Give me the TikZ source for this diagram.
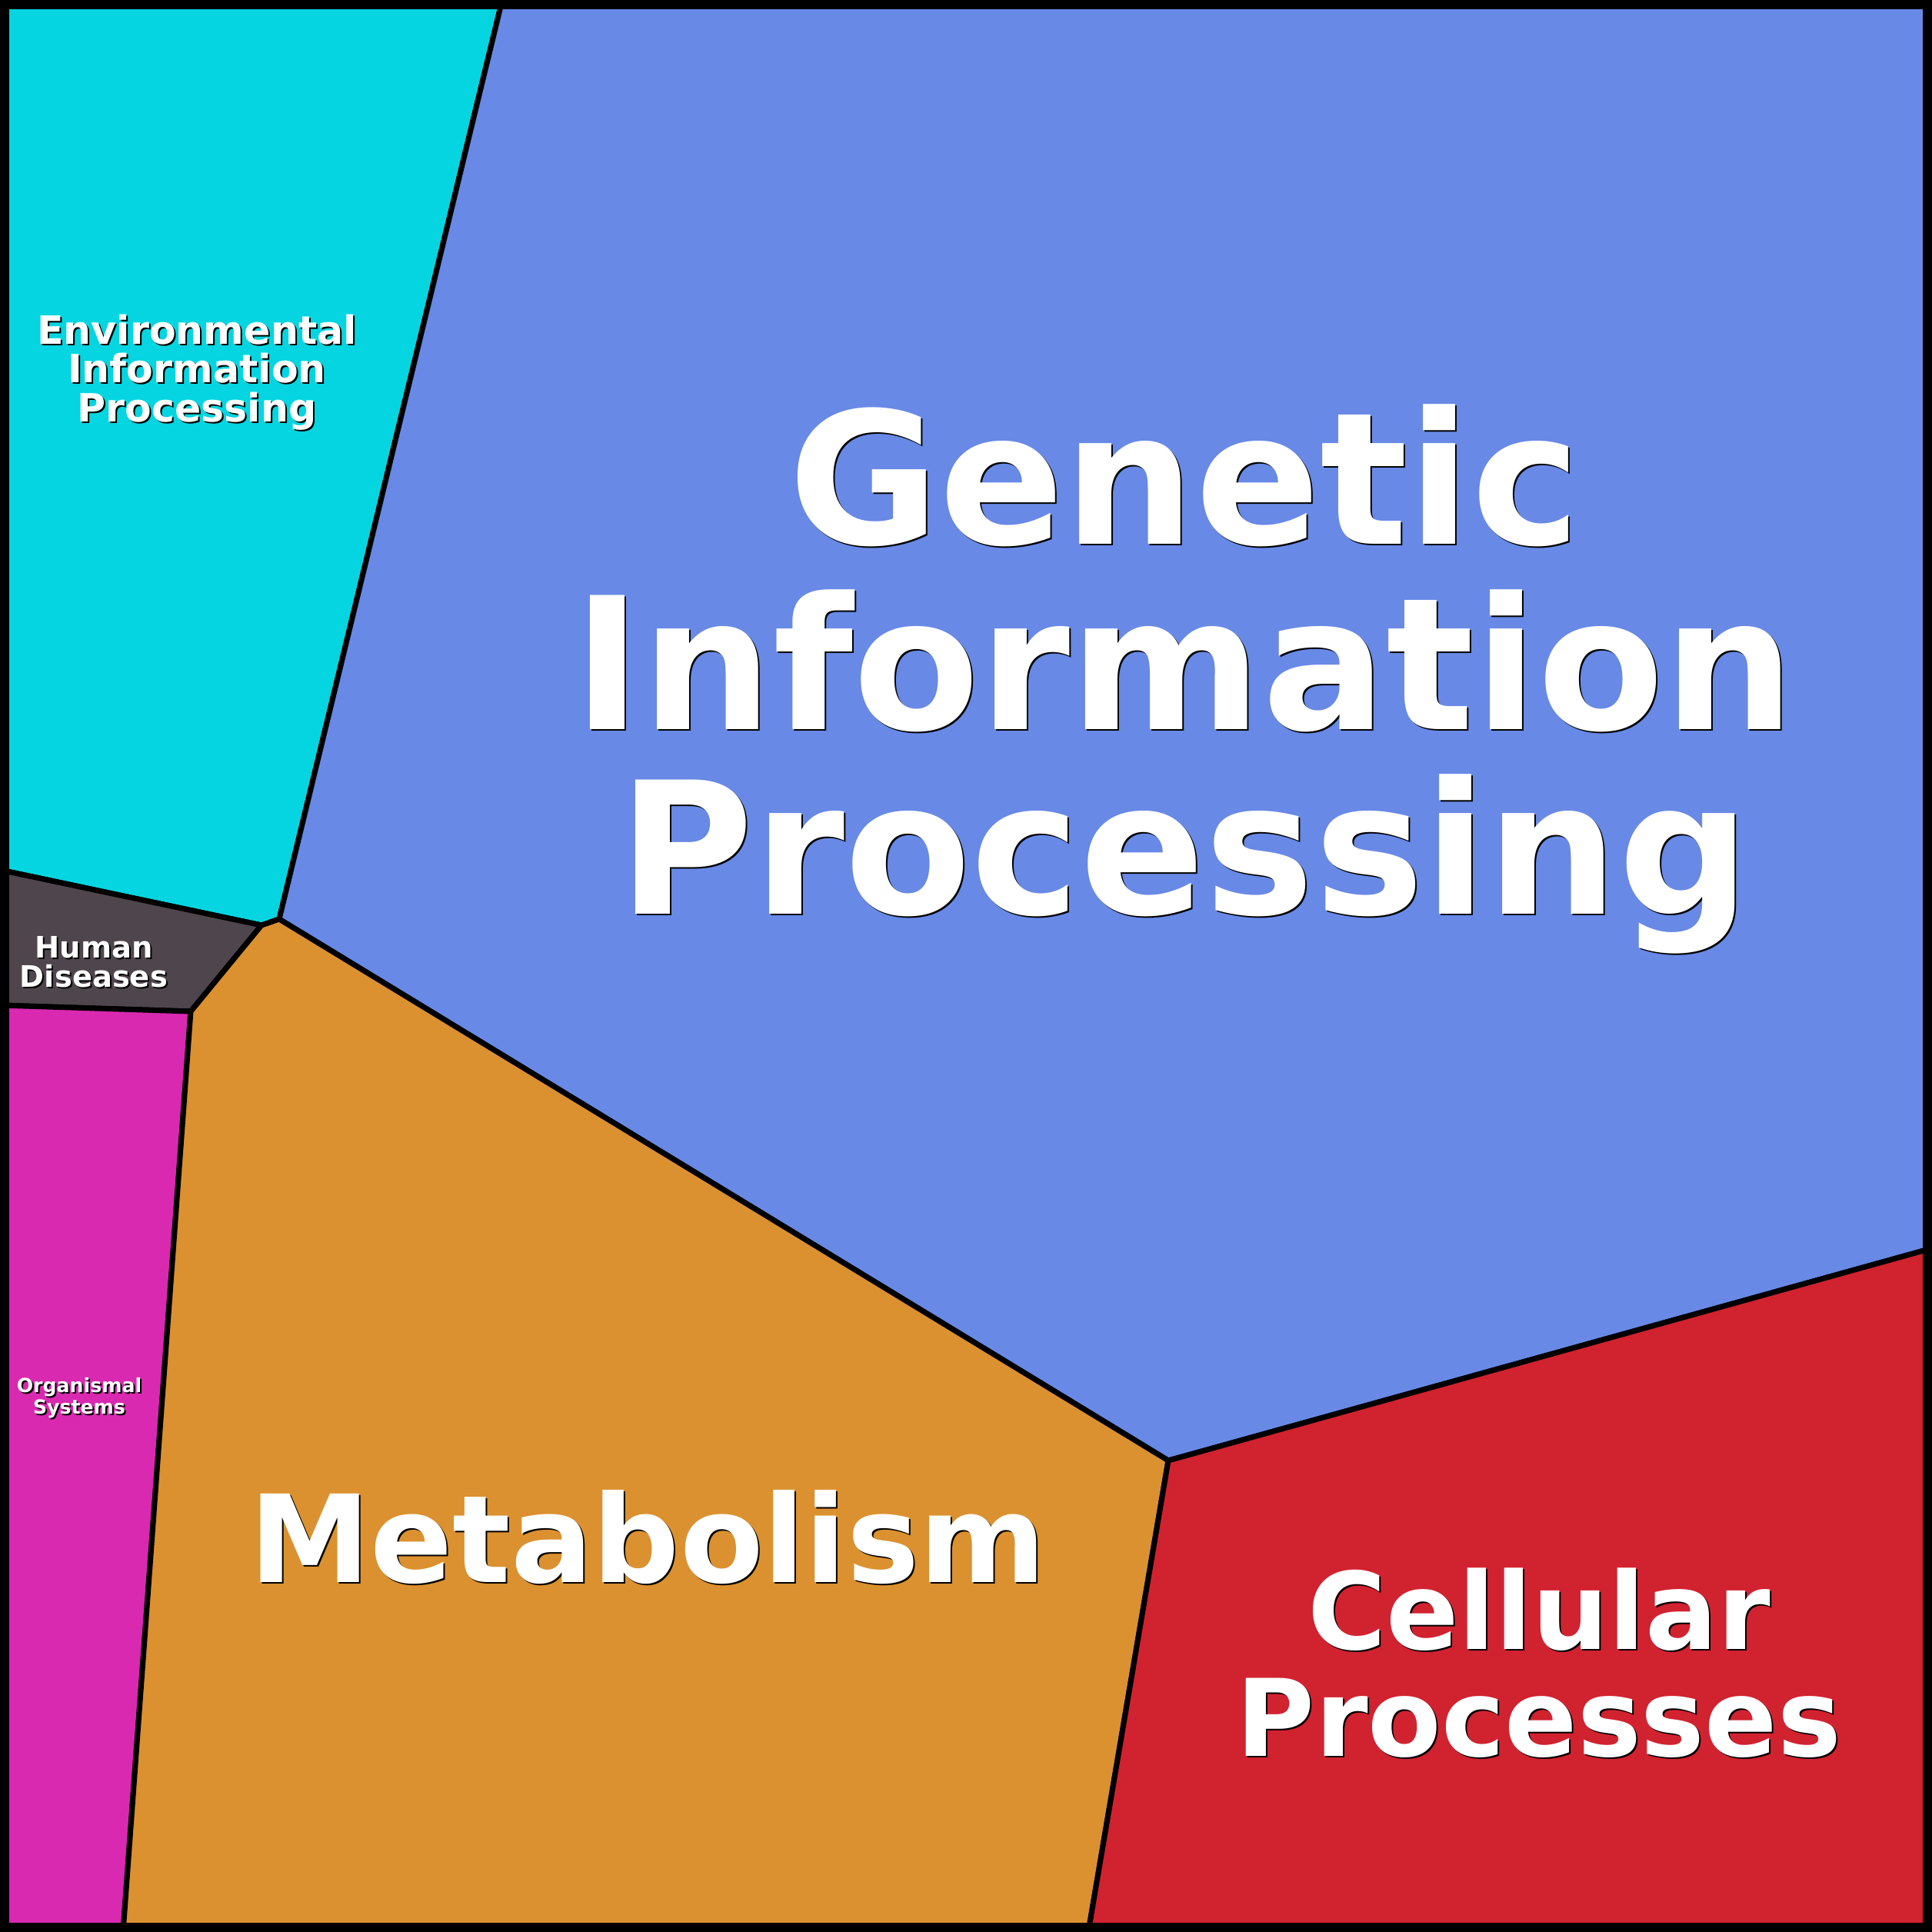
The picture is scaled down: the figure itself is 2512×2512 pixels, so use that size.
\documentclass[tikz,border=0pt]{standalone}
\usepackage{fontspec}
\setmainfont{DejaVu Sans}
\usetikzlibrary{calc}

\definecolor{envcyan}{RGB}{5,213,224}
\definecolor{genblue}{RGB}{104,137,229}
\definecolor{humgrey}{RGB}{78,69,77}
\definecolor{orgpink}{RGB}{217,41,176}
\definecolor{metorange}{RGB}{219,145,48}
\definecolor{celred}{RGB}{209,34,48}

\tikzset{
	region/.style={draw=black, line width=0.7mm, line join=miter},
	lbl/.style={align=center, inner sep=0pt, anchor=base},
}

\newcommand{\shadowlabel}[5]{%
	\node[lbl, text=black, font={\bfseries\fontsize{#3}{#4}\selectfont}] (#1s) at ($(#2)+(2,2)$) {#5};
	\node[lbl, text=white, font={\bfseries\fontsize{#3}{#4}\selectfont}] (#1) at (#2) {#5};
}

\begin{document}
\begin{tikzpicture}[x=0.1mm, y=-0.1mm]
	\useasboundingbox (0,0) rectangle (2512,2512);

	\coordinate (tl) at (0,0);
	\coordinate (tr) at (2512,0);
	\coordinate (br) at (2512,2512);
	\coordinate (bl) at (0,2512);

	\coordinate (a) at (653,0);
	\coordinate (b) at (363,1195);
	\coordinate (c) at (340,1203);
	\coordinate (d) at (0,1131);
	\coordinate (e) at (248,1315);
	\coordinate (f) at (0,1307);
	\coordinate (g) at (160,2512);
	\coordinate (h) at (1519,1899);
	\coordinate (i) at (2512,1623);
	\coordinate (j) at (1415,2512);

	\filldraw[region, fill=envcyan] (tl) -- (a) -- (b) -- (c) -- (d) -- cycle;
	\filldraw[region, fill=genblue] (a) -- (tr) -- (i) -- (h) -- (b) -- cycle;
	\filldraw[region, fill=humgrey] (d) -- (c) -- (e) -- (f) -- cycle;
	\filldraw[region, fill=orgpink] (f) -- (e) -- (g) -- (bl) -- cycle;
	\filldraw[region, fill=metorange] (b) -- (h) -- (j) -- (g) -- (e) -- (c) -- cycle;
	\filldraw[region, fill=celred] (h) -- (i) -- (br) -- (j) -- cycle;

	\draw[line width=1.2mm] (6,6) rectangle (2506,2506);

	\shadowlabel{env}{256,548}{14.4pt}{14.23pt}{Environmental\\Information\\Processing}
	\shadowlabel{gip}{1540,1188}{68.1pt}{68.29pt}{Genetic\\Information\\Processing}
	\shadowlabel{hd}{122,1283}{10.95pt}{10.81pt}{Human\\Diseases}
	\shadowlabel{os}{103,1838}{7.17pt}{6.83pt}{Organismal\\Systems}
	\shadowlabel{met}{842,2057}{44.96pt}{44.96pt}{Metabolism}
	\shadowlabel{cp}{2001,2283}{39.6pt}{39.55pt}{Cellular\\Processes}
\end{tikzpicture}
\end{document}
